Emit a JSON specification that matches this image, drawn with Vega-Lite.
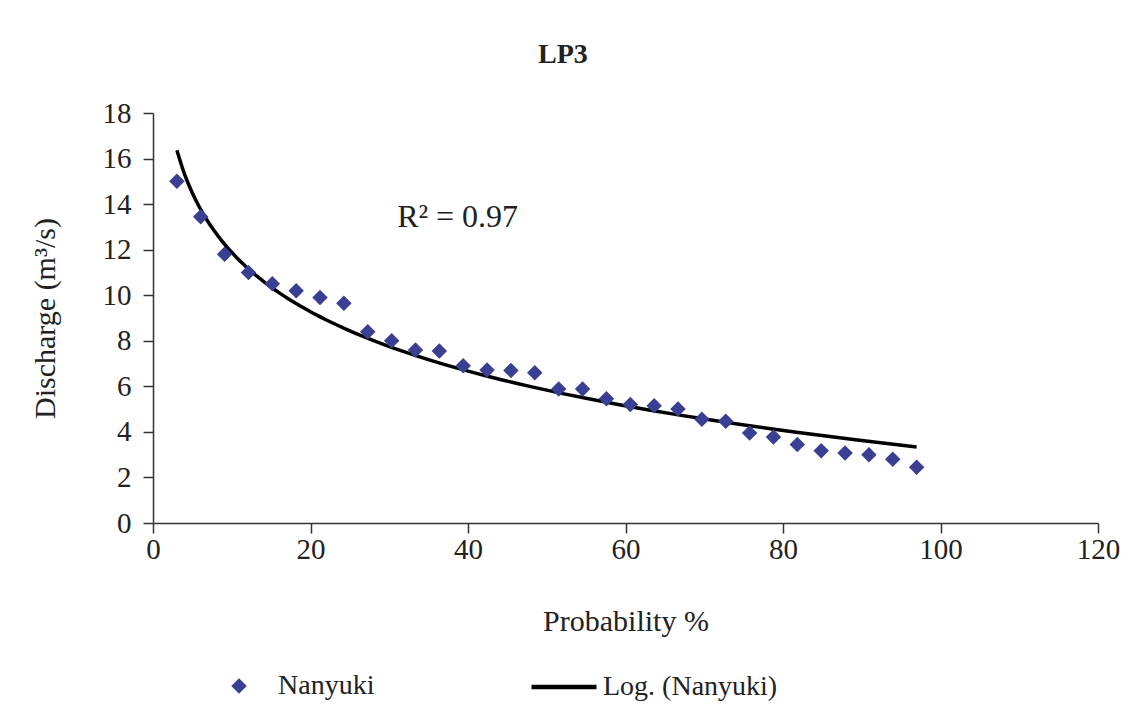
{
  "$schema": "https://vega.github.io/schema/vega-lite/v6.json",
  "autosize": {"type": "none"},
  "width": 945,
  "height": 410,
  "padding": {"left": 153, "top": 113, "right": 34, "bottom": 188},
  "background": "white",
  "title": {
    "text": "LP3",
    "font": "Liberation Serif",
    "fontSize": 28,
    "fontWeight": "bold",
    "color": "#222222",
    "anchor": "middle",
    "frame": "bounds",
    "offset": 30,
    "dx": -12
  },
  "config": {
    "view": {"stroke": null},
    "font": "Liberation Serif"
  },
  "datasets": {
    "obs": [
      {"p": 3.03, "q": 15.0},
      {"p": 6.06, "q": 13.45},
      {"p": 9.09, "q": 11.8},
      {"p": 12.12, "q": 11.0},
      {"p": 15.15, "q": 10.5},
      {"p": 18.18, "q": 10.2},
      {"p": 21.21, "q": 9.9},
      {"p": 24.24, "q": 9.65},
      {"p": 27.27, "q": 8.4},
      {"p": 30.3, "q": 8.0},
      {"p": 33.33, "q": 7.6},
      {"p": 36.36, "q": 7.55},
      {"p": 39.39, "q": 6.9},
      {"p": 42.42, "q": 6.72},
      {"p": 45.45, "q": 6.7},
      {"p": 48.48, "q": 6.6},
      {"p": 51.52, "q": 5.88},
      {"p": 54.55, "q": 5.88},
      {"p": 57.58, "q": 5.45},
      {"p": 60.61, "q": 5.2},
      {"p": 63.64, "q": 5.15},
      {"p": 66.67, "q": 5.0},
      {"p": 69.7, "q": 4.55},
      {"p": 72.73, "q": 4.47},
      {"p": 75.76, "q": 3.95},
      {"p": 78.79, "q": 3.78},
      {"p": 81.82, "q": 3.45},
      {"p": 84.85, "q": 3.17},
      {"p": 87.88, "q": 3.07},
      {"p": 90.91, "q": 3.0},
      {"p": 93.94, "q": 2.8},
      {"p": 96.97, "q": 2.45}
    ],
    "note": [{"p": 31.0, "q": 13.0, "t": "R² = 0.97"}]
  },
  "layer": [
    {
      "data": {"name": "obs"},
      "transform": [
        {"regression": "q", "on": "p", "method": "log", "extent": [3.03, 96.97]}
      ],
      "mark": {"type": "line", "strokeWidth": 3.5, "interpolate": "monotone", "color": "#000000"},
      "encoding": {
        "x": {"field": "p", "type": "quantitative"},
        "y": {"field": "q", "type": "quantitative"},
        "color": {
          "datum": "Log. (Nanyuki)",
          "scale": {"domain": ["Log. (Nanyuki)"], "range": ["#000000"]},
          "legend": {
            "title": null,
            "orient": "none",
            "direction": "horizontal",
            "legendX": 376,
            "legendY": 539,
            "padding": 0,
            "symbolType": "stroke",
            "symbolSize": 4225,
            "symbolStrokeWidth": 4.5,
            "symbolStrokeColor": "#000000",
            "labelFont": "Liberation Serif",
            "labelFontSize": 28,
            "labelColor": "#222222",
            "labelOffset": 4,
            "labelLimit": 400
          }
        }
      }
    },
    {
      "data": {"name": "obs"},
      "mark": {"type": "point", "shape": "diamond", "filled": true, "size": 240, "opacity": 1, "color": "#3a3f94"},
      "encoding": {
        "x": {
          "field": "p",
          "type": "quantitative",
          "scale": {"domain": [0, 120], "nice": false},
          "axis": {
            "values": [0, 20, 40, 60, 80, 100, 120],
            "title": "Probability %",
            "grid": false,
            "domainColor": "#333333",
            "domainWidth": 1.5,
            "tickColor": "#333333",
            "tickWidth": 1.5,
            "tickSize": 10,
            "labelFont": "Liberation Serif",
            "labelFontSize": 29,
            "labelColor": "#222222",
            "labelPadding": 2,
            "labelFlush": false,
            "titleFont": "Liberation Serif",
            "titleFontSize": 30,
            "titleFontWeight": "normal",
            "titleColor": "#222222",
            "titlePadding": 42
          }
        },
        "y": {
          "field": "q",
          "type": "quantitative",
          "scale": {"domain": [0, 18], "nice": false},
          "axis": {
            "values": [0, 2, 4, 6, 8, 10, 12, 14, 16, 18],
            "title": "Discharge (m³/s)",
            "grid": false,
            "domainColor": "#333333",
            "domainWidth": 1.5,
            "tickColor": "#333333",
            "tickWidth": 1.5,
            "tickSize": 10,
            "labelFont": "Liberation Serif",
            "labelFontSize": 29,
            "labelColor": "#222222",
            "labelPadding": 12,
            "titleFont": "Liberation Serif",
            "titleFontSize": 30,
            "titleFontWeight": "normal",
            "titleColor": "#222222",
            "titlePadding": 42
          }
        },
        "shape": {
          "datum": "Nanyuki",
          "scale": {"domain": ["Nanyuki"], "range": ["diamond"]},
          "legend": {
            "title": null,
            "orient": "none",
            "direction": "horizontal",
            "legendX": 72,
            "legendY": 559,
            "padding": 0,
            "symbolSize": 240,
            "symbolFillColor": "#3a3f94",
            "symbolStrokeColor": "#3a3f94",
            "symbolStrokeWidth": 0,
            "labelFont": "Liberation Serif",
            "labelFontSize": 28,
            "labelColor": "#222222",
            "labelOffset": 25,
            "labelLimit": 400
          }
        }
      }
    },
    {
      "data": {"name": "note"},
      "mark": {"type": "text", "align": "left", "baseline": "alphabetic", "font": "Liberation Serif", "fontSize": 32, "color": "#222222"},
      "encoding": {
        "x": {"field": "p", "type": "quantitative"},
        "y": {"field": "q", "type": "quantitative"},
        "text": {"field": "t"}
      }
    }
  ]
}
